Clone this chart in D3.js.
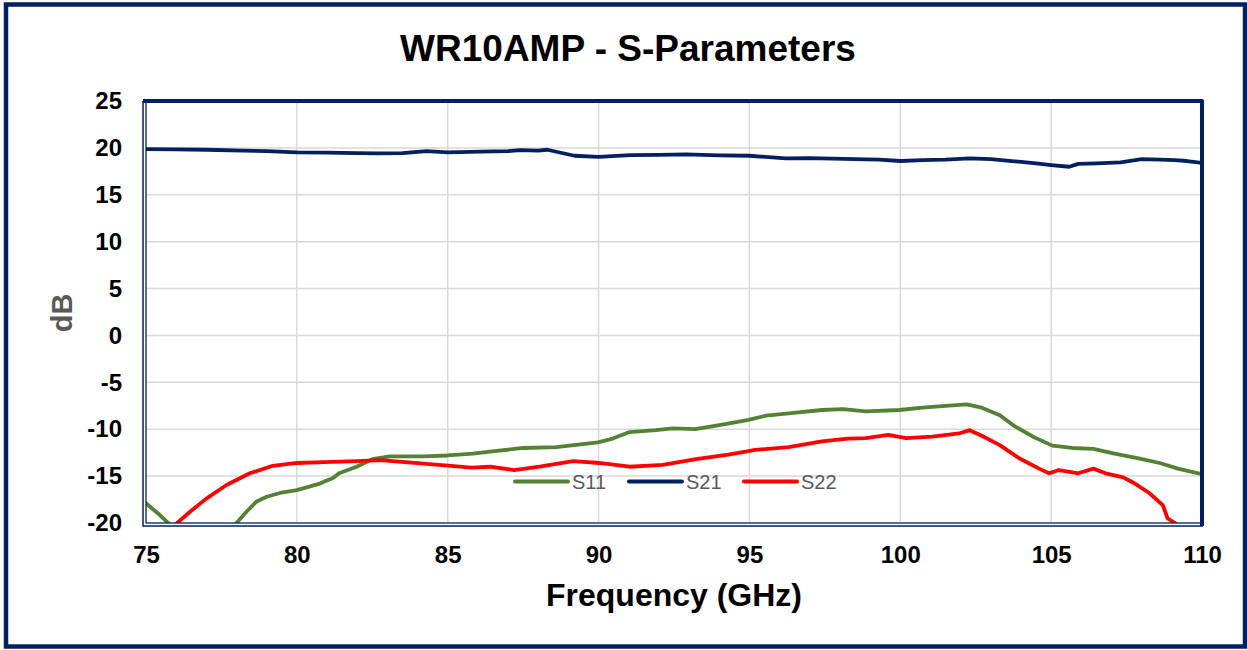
<!DOCTYPE html>
<html>
<head>
<meta charset="utf-8">
<script src="https://cdn.jsdelivr.net/npm/d3@7"></script>
<style>
  body { margin: 0; background: #fff; }
  svg { display: block; }
</style>
</head>
<body>
<svg id="chart" width="1247" height="650"></svg>
<script>
// values
var xTicks = [75, 80, 85, 90, 95, 100, 105, 110]
var yTicks = [25, 20, 15, 10, 5, 0, -5, -10, -15, -20]

var s11Freq = [75.0, 75.46, 75.8, 76.2, 77.0, 77.6, 78.0, 78.33, 78.67, 79.0, 79.44, 80.0, 80.76, 81.2, 81.4, 81.98, 82.5, 83.08, 84.2, 85.0, 85.84, 86.4, 87.5, 88.6, 89.98, 90.47, 91.03, 91.9, 92.46, 93.2, 94.1, 94.97, 95.55, 96.3, 97.4, 98.1, 98.86, 99.97, 100.74, 101.5, 102.2, 102.7, 103.3, 103.8, 104.4, 105.04, 105.7, 106.4, 107.1, 107.9, 108.6, 109.2, 110.0]
var s11Db = [-17.9, -19.15, -20.2, -21.3, -22, -21, -20.0, -18.8, -17.7, -17.2, -16.8, -16.5, -15.8, -15.2, -14.7, -14.0, -13.2, -12.9, -12.9, -12.8, -12.6, -12.4, -12.0, -11.9, -11.4, -11.0, -10.3, -10.1, -9.9, -10.0, -9.5, -9.0, -8.55, -8.3, -7.95, -7.85, -8.1, -7.95, -7.7, -7.5, -7.35, -7.7, -8.5, -9.7, -10.8, -11.75, -12.0, -12.1, -12.6, -13.1, -13.6, -14.2, -14.8]

var s21Freq = [75.0, 76.0, 77.0, 78.2, 79.0, 80.0, 81.0, 82.0, 82.7, 83.5, 84.3, 85.0, 86.1, 87.0, 87.4, 88.0, 88.3, 89.2, 90.0, 91.05, 92.0, 92.9, 94.0, 95.0, 96.2, 97.0, 98.5, 99.3, 100.0, 100.74, 101.5, 102.3, 103.0, 103.7, 104.5, 105.0, 105.6, 105.9, 106.5, 107.3, 108.0, 108.6, 109.1, 109.5, 110.0]
var s21Db = [19.87, 19.85, 19.8, 19.7, 19.65, 19.52, 19.5, 19.45, 19.41, 19.45, 19.66, 19.52, 19.6, 19.65, 19.77, 19.7, 19.8, 19.16, 19.05, 19.23, 19.25, 19.3, 19.2, 19.16, 18.88, 18.9, 18.8, 18.75, 18.6, 18.7, 18.75, 18.88, 18.8, 18.6, 18.35, 18.17, 17.99, 18.3, 18.35, 18.45, 18.8, 18.75, 18.7, 18.6, 18.4]

var s22Freq = [75.6, 75.96, 76.46, 77.0, 77.67, 78.44, 79.2, 80.0, 80.9, 81.98, 82.75, 83.6, 84.7, 85.8, 86.4, 87.2, 88.05, 89.15, 90.03, 91.03, 92.13, 93.23, 94.3, 95.2, 96.3, 97.4, 98.26, 98.86, 99.6, 100.2, 101.07, 101.95, 102.3, 102.7, 103.3, 103.94, 104.6, 104.93, 105.26, 105.9, 106.4, 106.8, 107.36, 107.7, 108.25, 108.7, 108.86, 109.1, 109.4]
var s22Db = [-21.5, -20.2, -18.8, -17.4, -15.95, -14.7, -13.9, -13.6, -13.5, -13.4, -13.3, -13.5, -13.8, -14.1, -14.0, -14.35, -14.0, -13.4, -13.6, -14.0, -13.8, -13.2, -12.7, -12.2, -11.9, -11.3, -11.0, -10.95, -10.6, -10.95, -10.8, -10.45, -10.1, -10.7, -11.7, -13.1, -14.2, -14.7, -14.35, -14.7, -14.2, -14.7, -15.1, -15.65, -16.8, -18.1, -19.5, -20.0, -21.0]

var seriesNames = ['S11', 'S21', 'S22']
var seriesColors = ['#548235', '#002060', '#ff0000']

var series = [
    { name: seriesNames[0], color: seriesColors[0], f: s11Freq, v: s11Db },
    { name: seriesNames[1], color: seriesColors[1], f: s21Freq, v: s21Db },
    { name: seriesNames[2], color: seriesColors[2], f: s22Freq, v: s22Db }
]

var navy = '#002060'
var fontFam = 'Liberation Sans, Arial, sans-serif'
var svg = d3.select('#chart')

// plot area bounds
var pLeft = 146, pRight = 1202, pTop = 101, pBottom = 523

var x = d3.scaleLinear().domain([75, 110]).range([pLeft, pRight])
var y = d3.scaleLinear().domain([-20, 25]).range([pBottom, pTop])

// outer chart border
svg.append('rect')
    .attr('x', 6).attr('y', 4.5)
    .attr('width', 1239).attr('height', 642)
    .attr('fill', 'none')
    .attr('stroke', navy)
    .attr('stroke-width', 4.5)

// title
svg.append('text')
    .attr('x', 628).attr('y', 61)
    .attr('text-anchor', 'middle')
    .style('font-family', fontFam)
    .style('font-weight', 'bold')
    .style('font-size', '37px')
    .attr('fill', '#000')
    .text('WR10AMP - S-Parameters')

// gridlines
svg.append('g')
    .selectAll('line')
    .data(xTicks)
    .enter()
    .append('line')
    .attr('x1', function(d) { return x(d) })
    .attr('x2', function(d) { return x(d) })
    .attr('y1', pTop).attr('y2', pBottom)
    .attr('stroke', '#d9d9d9')
    .attr('stroke-width', 1.5)

svg.append('g')
    .selectAll('line')
    .data(yTicks)
    .enter()
    .append('line')
    .attr('x1', pLeft).attr('x2', pRight)
    .attr('y1', function(d) { return y(d) })
    .attr('y2', function(d) { return y(d) })
    .attr('stroke', '#d9d9d9')
    .attr('stroke-width', 1.5)

// axes, labels only (plain hyphen for negatives, like the reference)
var plain = function(d) { return String(d) }
var xAxis = svg.append('g')
    .attr('transform', 'translate(0,' + pBottom + ')')
    .call(d3.axisBottom(x).tickValues(xTicks).tickFormat(plain).tickSize(0).tickPadding(23))
var yAxis = svg.append('g')
    .attr('transform', 'translate(' + pLeft + ',0)')
    .call(d3.axisLeft(y).tickValues(yTicks).tickFormat(plain).tickSize(0).tickPadding(24))

;[xAxis, yAxis].forEach(function(ax) {
    ax.select('.domain').remove()
    ax.selectAll('text')
        .style('font-family', fontFam)
        .style('font-weight', 'bold')
        .style('font-size', '24px')
        .attr('fill', '#000')
})

// clip for series
svg.append('clipPath')
    .attr('id', 'plotClip')
    .append('rect')
    .attr('x', pLeft).attr('y', pTop)
    .attr('width', pRight - pLeft).attr('height', pBottom - pTop)

var line = d3.line()
    .x(function(d) { return x(d[0]) })
    .y(function(d) { return y(d[1]) })

var plot = svg.append('g').attr('clip-path', 'url(#plotClip)')
series.forEach(function(s) {
    var pts = s.f.map(function(f, i) { return [f, s.v[i]] })
    plot.append('path')
        .datum(pts)
        .attr('d', line)
        .attr('fill', 'none')
        .attr('stroke', s.color)
        .attr('stroke-width', 3.8)
        .attr('stroke-linejoin', 'round')
        .attr('stroke-linecap', 'round')
})

// plot area frame: double thin line left/bottom, thick top/right
svg.append('rect')
    .attr('x', pLeft).attr('y', pTop)
    .attr('width', pRight - pLeft).attr('height', pBottom - pTop)
    .attr('fill', 'none')
    .attr('stroke', navy)
    .attr('stroke-width', 1.2)
svg.append('path')
    .attr('d', 'M' + (pLeft - 3) + ',' + pTop + ' L' + (pLeft - 3) + ',' + (pBottom + 3) + ' L' + (pRight + 1) + ',' + (pBottom + 3))
    .attr('fill', 'none')
    .attr('stroke', navy)
    .attr('stroke-width', 1.5)
svg.append('path')
    .attr('d', 'M' + (pLeft - 3) + ',' + pTop + ' L' + pRight + ',' + pTop + ' L' + pRight + ',' + (pBottom + 3))
    .attr('fill', 'none')
    .attr('stroke', navy)
    .attr('stroke-width', 4)
    .attr('stroke-linejoin', 'round')

// legend
var legendX = [515, 629, 744]
var legend = svg.append('g')
    .selectAll('g')
    .data(series)
    .enter()
    .append('g')
    .attr('transform', function(d, i) { return 'translate(' + legendX[i] + ',481.5)' })

legend.append('line')
    .attr('x1', 0).attr('x2', 53)
    .attr('y1', 0).attr('y2', 0)
    .attr('stroke', function(d) { return d.color })
    .attr('stroke-width', 4)
    .attr('stroke-linecap', 'round')

legend.append('text')
    .attr('x', 57).attr('y', 7)
    .style('font-family', fontFam)
    .style('font-size', '20px')
    .attr('fill', '#595959')
    .text(function(d) { return d.name })

// axis titles
svg.append('text')
    .attr('x', 674).attr('y', 606)
    .attr('text-anchor', 'middle')
    .style('font-family', fontFam)
    .style('font-weight', 'bold')
    .style('font-size', '32px')
    .attr('fill', '#000')
    .text('Frequency (GHz)')

svg.append('text')
    .attr('transform', 'translate(72,313) rotate(-90)')
    .attr('text-anchor', 'middle')
    .style('font-family', fontFam)
    .style('font-weight', 'bold')
    .style('font-size', '29px')
    .attr('fill', '#595959')
    .text('dB')
</script>
</body>
</html>
